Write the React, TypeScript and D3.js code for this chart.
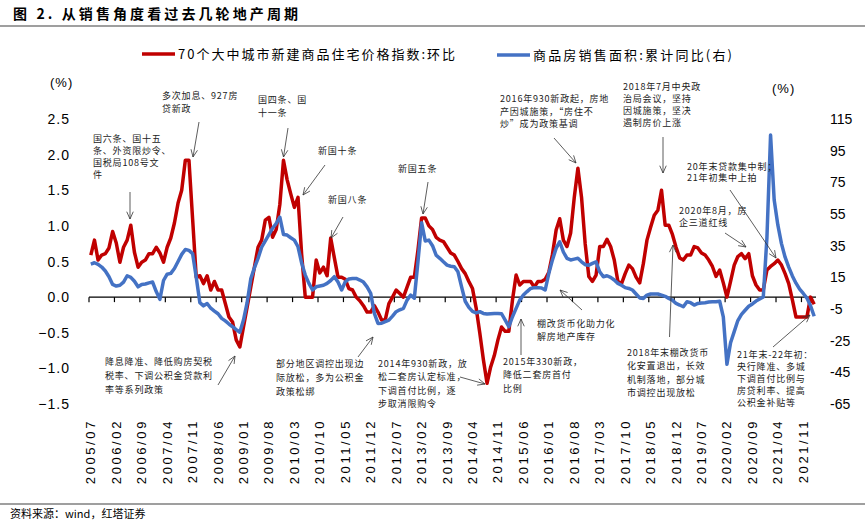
import React, { useEffect, useRef } from 'react';
import * as d3 from 'd3';

const W = 865;
const H = 526;

// monthly, starting 2005/07 (200 months, to 2022/02)
const startYear = 2005;
const startMonth = 7;

// 70个大中城市新建商品住宅价格指数: 环比 (%)
const priceMoM: number[] = [
  0.59, 0.80, 0.52, 0.59, 0.61, 0.69, 0.92, 0.76, 0.49, 0.70,
  0.80, 1.01, 0.63, 0.42, 0.49, 0.52, 0.61, 0.61, 0.70, 0.62,
  0.49, 0.70, 0.83, 1.04, 1.32, 1.50, 1.92, 1.92, 1.10, 0.28,
  0.30, 0.19, 0.30, 0.10, 0.22, 0.10, 0.10, -0.09, -0.28, -0.35,
  -0.60, -0.70, -0.42, -0.14, 0.14, 0.42, 0.70, 0.80, 1.08, 1.12,
  0.84, 0.95, 1.30, 1.92, 1.65, 1.45, 1.26, 1.40, 0.60, 0.00,
  0.00, 0.00, 0.52, 0.34, 0.42, 0.30, 0.83, 0.55, 0.28, 0.28,
  0.25, 0.12, 0.10, 0.00, -0.05, -0.12, -0.21, -0.21, -0.12, -0.21,
  -0.32, -0.32, -0.09, 0.00, 0.10, 0.05, 0.00, 0.14, 0.28, 0.28,
  0.66, 1.11, 1.11, 1.00, 0.95, 0.84, 0.80, 0.78, 0.70, 0.62,
  0.59, 0.50, 0.40, 0.33, 0.22, 0.12, -0.15, -0.50, -0.88, -1.21,
  -0.98, -0.82, -0.60, -0.42, -0.48, -0.48, -0.04, 0.31, 0.17, 0.22,
  0.22, 0.22, 0.14, 0.22, 0.22, 0.25, 0.35, 0.60, 0.94, 1.10,
  0.80, 0.71, 0.90, 1.40, 1.81, 1.40, 0.75, 0.29, 0.22, 0.31,
  0.71, 0.71, 0.81, 0.71, 0.52, 0.22, 0.19, 0.33, 0.45, 0.40,
  0.28, 0.20, 0.47, 0.80, 0.98, 1.15, 1.22, 1.50, 1.01, 1.01,
  0.88, 0.70, 0.55, 0.52, 0.59, 0.59, 0.71, 0.69, 0.62, 0.59,
  0.52, 0.43, 0.29, 0.38, 0.20, 0.00, 0.22, 0.45, 0.57, 0.61,
  0.54, 0.61, 0.30, 0.17, 0.10, 0.10, 0.38, 0.43, 0.47, 0.52,
  0.45, 0.33, 0.19, -0.04, -0.28, -0.28, -0.28, -0.28, 0.00, -0.10,
];

// 商品房销售面积: 累计同比 (%), right axis
const salesYoY: number[] = [
  23.4, 24.2, 23.2, 21.5, 19.0, 15.4, 10.5, 9.5, 10.0, 12.0,
  16.0, 15.0, 12.5, 9.0, 10.5, 10.8, 11.5, 12.0, 6.0, 1.1,
  13.0, 17.0, 17.5, 20.6, 25.0, 29.5, 32.6, 32.0, 30.0, 15.0,
  -1.0, -3.0, -1.5, -4.5, -6.3, -8.0, -10.9, -12.5, -14.5, -16.2,
  -18.0, -19.7, -12.0, -1.0, 14.0, 21.0, 27.0, 34.0, 38.0, 42.0,
  46.0, 49.0, 53.0, 42.1, 41.7, 40.0, 38.5, 34.3, 24.0, 16.4,
  11.2, 7.0, 9.0, 9.5, 10.0, 11.2, 13.0, 15.4, 12.0, 7.0,
  12.2, 14.0, 14.3, 14.3, 13.3, 12.0, 9.0, 4.9, -7.8, -14.1,
  -14.0, -13.0, -12.0, -9.5, -6.7, -5.5, -4.6, 0.6, 3.8, 1.8,
  25.0, 49.5, 38.0, 38.5, 35.0, 29.0, 27.0, 24.8, 22.7, 22.0,
  21.7, 18.5, 9.0, -0.1, -4.0, -6.5, -7.5, -6.7, -7.8, -8.2,
  -8.0, -7.8, -7.8, -8.0, -12.0, -16.2, -9.9, -4.6, 0.6, 3.8,
  6.0, 8.0, 8.5, 8.5, 8.3, 7.0, 17.5, 26.0, 33.3, 37.5,
  31.0, 27.0, 26.0, 26.5, 27.0, 24.8, 23.0, 22.7, 23.8, 24.8,
  18.5, 15.4, 16.0, 15.0, 13.3, 11.2, 10.0, 8.5, 8.0, 7.0,
  4.5, 2.0, 1.7, 3.8, 4.5, 4.5, 4.5, 3.8, 3.0, 1.7,
  0.6, -1.5, -2.5, -3.6, -0.4, -1.0, -2.5, -1.5, -1.2, -1.0,
  -0.6, -0.4, -0.4, -0.1, -10.0, -39.9, -26.3, -19.3, -12.3, -8.4,
  -5.8, -3.3, -1.8, 0.0, 1.3, 2.6, 40.0, 104.9, 63.8, 48.1,
  36.3, 27.7, 21.5, 15.9, 11.3, 7.5, 4.8, 1.9, -3.0, -9.6,
];

const leftTicks = [2.5, 2.0, 1.5, 1.0, 0.5, 0.0, -0.5, -1.0, -1.5];
const rightTicks = [115, 95, 75, 55, 35, 15, -5, -25, -45, -65];
const labelEvery = 7;

const seriesNames = ['70个大中城市新建商品住宅价格指数:环比', '商品房销售面积:累计同比(右)'];
const title = '图 2. 从销售角度看过去几轮地产周期';
const source = '资料来源：wind，红塔证券';

const noteTexts: string[][] = [
  ['国六条、国十五', '条、外资限炒令、', '国税局108号文', '件'],
  ['多次加息、927房', '贷新政'],
  ['国四条、国', '十一条'],
  ['新国十条'],
  ['新国八条'],
  ['新国五条'],
  ['2016年930新政起，房地', '产因城施策，“房住不', '炒”成为政策基调'],
  ['2018年7月中央政', '治局会议，坚持', '因城施策，坚决', '遏制房价上涨'],
  ['20年末贷款集中制；', '21年初集中上拍'],
  ['2020年8月，房', '企三道红线'],
  ['棚改货币化助力化', '解房地产库存'],
  ['2015年330新政，', '降低二套房首付', '比例'],
  ['2014年930新政，放', '松二套房认定标准，', '下调首付比例，逐', '步取消限购令'],
  ['降息降准、降低购房契税', '税率、下调公积金贷款利', '率等系列政策'],
  ['部分地区调控出现边', '际放松，多为公积金', '政策松绑'],
  ['2018年末棚改货币', '化安置退出，长效', '机制落地，部分城', '市调控出现放松'],
  ['21年末-22年初：', '央行降准、多城', '下调首付比例与', '房贷利率、提高', '公积金补贴等'],
];

// text position (x, first baseline, line height) and arrow (from -> to), in px
const noteLayout = [
  { x: 93, y: 141.5, lh: 12.3, a: [130, 192, 130, 219] },
  { x: 162, y: 98.5, lh: 13, a: [199, 122, 193, 157] },
  { x: 258, y: 103, lh: 13.3, a: [288, 128, 283.5, 157] },
  { x: 318, y: 153.5, lh: 13, a: [325, 165, 303, 195] },
  { x: 328, y: 203, lh: 13, a: [343, 217, 331, 238] },
  { x: 398, y: 172, lh: 13, a: [428, 182, 423, 214] },
  { x: 500, y: 102, lh: 12.5, a: [554, 138, 576, 163] },
  { x: 623, y: 89.5, lh: 12, a: [663, 137, 663, 173] },
  { x: 687, y: 169.5, lh: 11.5, a: [730, 190, 776, 258] },
  { x: 679, y: 213.5, lh: 12.5, a: [725, 233, 746, 247] },
  { x: 537, y: 327, lh: 13.3, a: [582, 310, 560, 290] },
  { x: 503, y: 365, lh: 13.3, a: [521, 355, 521, 319] },
  { x: 378, y: 367, lh: 13.3, a: [460, 377, 485, 384] },
  { x: 105, y: 365, lh: 13.8, a: [218, 385, 235, 356] },
  { x: 276, y: 367, lh: 14, a: [358, 357, 373, 337] },
  { x: 627, y: 356, lh: 13.3, a: [669.5, 337, 673, 245] },
  { x: 737, y: 357.5, lh: 12, a: [773, 347, 810, 315] },
];

const RED = '#C00000';
const BLUE = '#4472C4';
const CJK = '"Noto Sans CJK SC", "Noto Sans", sans-serif';
const LATIN = '"Liberation Sans", Arial, sans-serif';

function monthLabel(i: number) {
  const t = startMonth - 1 + i;
  const y = startYear + Math.floor(t / 12);
  const m = (t % 12) + 1;
  return `${y}/${String(m).padStart(2, '0')}`;
}

export default function App() {
  const svgRef = useRef<SVGSVGElement>(null);

  useEffect(() => {
    document.body.style.margin = '0';
    if (!svgRef.current) return;
    const svg = d3.select(svgRef.current);
    svg.selectAll('*').remove();

    const n = priceMoM.length;
    const x = d3.scaleLinear().domain([0, n]).range([89, 816]);
    const yL = d3.scaleLinear().domain([-1.5, 2.5]).range([404, 119]);
    const yR = d3.scaleLinear().domain([-65, 115]).range([404, 119]);

    svg.append('rect').attr('width', W).attr('height', H).attr('fill', '#fff');

    // title + rule
    svg.append('text')
      .attr('x', 13).attr('y', 19)
      .attr('font-family', CJK).attr('font-size', 14).attr('font-weight', 'bold')
      .attr('fill', '#000')
      .attr('textLength', 285).attr('lengthAdjust', 'spacing')
      .text(title);
    svg.append('line').attr('x1', 0).attr('x2', W).attr('y1', 26).attr('y2', 26)
      .attr('stroke', '#7f7f7f').attr('stroke-width', 1.5);

    // legend
    const legend = [
      { x: 142, y: 54, color: RED, name: seriesNames[0], len: 277 },
      { x: 497, y: 55, color: BLUE, name: seriesNames[1], len: 199 },
    ];
    legend.forEach(l => {
      svg.append('line').attr('x1', l.x).attr('x2', l.x + 33).attr('y1', l.y).attr('y2', l.y)
        .attr('stroke', l.color).attr('stroke-width', 3.5);
      svg.append('text').attr('x', l.x + 36).attr('y', l.y + 4.5)
        .attr('font-family', CJK).attr('font-size', 13).attr('fill', '#000')
        .attr('textLength', l.len).attr('lengthAdjust', 'spacing')
        .text(l.name);
    });

    // units
    svg.append('text').attr('x', 50).attr('y', 87).attr('font-family', LATIN)
      .attr('font-size', 13).attr('letter-spacing', 1).attr('fill', '#000').text('(%)');
    svg.append('text').attr('x', 772).attr('y', 93).attr('font-family', LATIN)
      .attr('font-size', 13).attr('letter-spacing', 1).attr('fill', '#000').text('(%)');

    // left axis labels
    svg.append('g').selectAll('text').data(leftTicks).join('text')
      .attr('x', 70).attr('y', d => yL(d)).attr('dy', '0.36em')
      .attr('text-anchor', 'end')
      .attr('font-family', LATIN).attr('font-size', 14).attr('letter-spacing', 1)
      .attr('fill', '#000')
      .text(d => d3.format('.1f')(d));

    // right axis labels
    svg.append('g').selectAll('text').data(rightTicks).join('text')
      .attr('x', 830).attr('y', d => yR(d)).attr('dy', '0.36em')
      .attr('font-family', LATIN).attr('font-size', 14)
      .attr('fill', '#000')
      .text(d => String(d));

    // category axis at left 0
    const y0 = yL(0);
    svg.append('line').attr('x1', x(0)).attr('x2', x(n)).attr('y1', y0).attr('y2', y0)
      .attr('stroke', '#000').attr('stroke-width', 1.2);
    const tickIdx = d3.range(0, n, labelEvery);
    svg.append('g').selectAll('line').data(tickIdx).join('line')
      .attr('x1', d => x(d)).attr('x2', d => x(d))
      .attr('y1', y0).attr('y2', y0 + 5)
      .attr('stroke', '#000').attr('stroke-width', 1.2);
    svg.append('g').selectAll('text').data(tickIdx).join('text')
      .attr('transform', d => `translate(${x(d + 0.5)},419) rotate(-90)`)
      .attr('text-anchor', 'end').attr('dominant-baseline', 'central')
      .attr('font-family', LATIN).attr('font-size', 13).attr('letter-spacing', 2.6)
      .attr('fill', '#000')
      .text(d => monthLabel(d));

    // series
    const redLine = d3.line<number>().x((_, i) => x(i + 0.5)).y(d => yL(d));
    const blueLine = d3.line<number>().x((_, i) => x(i + 0.5)).y(d => yR(d));
    svg.append('path').attr('d', redLine(priceMoM) as string)
      .attr('fill', 'none').attr('stroke', RED).attr('stroke-width', 3.5)
      .attr('stroke-linejoin', 'round');
    svg.append('path').attr('d', blueLine(salesYoY) as string)
      .attr('fill', 'none').attr('stroke', BLUE).attr('stroke-width', 3.5)
      .attr('stroke-linejoin', 'round');

    // annotations
    const ng = svg.append('g');
    noteTexts.forEach((lines, k) => {
      const p = noteLayout[k];
      const t = ng.append('text')
        .attr('font-family', CJK).attr('font-size', 9).attr('letter-spacing', 0.8)
        .attr('fill', '#222');
      lines.forEach((s, j) => {
        t.append('tspan').attr('x', p.x).attr('y', p.y + j * p.lh).text(s);
      });
      const [x1, y1, x2, y2] = p.a;
      ng.append('line').attr('x1', x1).attr('y1', y1).attr('x2', x2).attr('y2', y2)
        .attr('stroke', '#333').attr('stroke-width', 0.8);
      const ang = Math.atan2(y1 - y2, x1 - x2);
      const hl = 8;
      [-0.42, 0.42].forEach(da => {
        ng.append('line').attr('x1', x2).attr('y1', y2)
          .attr('x2', x2 + hl * Math.cos(ang + da)).attr('y2', y2 + hl * Math.sin(ang + da))
          .attr('stroke', '#333').attr('stroke-width', 0.8);
      });
    });

    // footer
    svg.append('line').attr('x1', 0).attr('x2', W).attr('y1', 504).attr('y2', 504)
      .attr('stroke', '#7f7f7f').attr('stroke-width', 1.5);
    svg.append('text').attr('x', 10).attr('y', 518)
      .attr('font-family', CJK).attr('font-size', 11).attr('fill', '#000')
      .text(source);
  }, []);

  return <svg ref={svgRef} width={W} height={H} style={{ display: 'block' }} />;
}
